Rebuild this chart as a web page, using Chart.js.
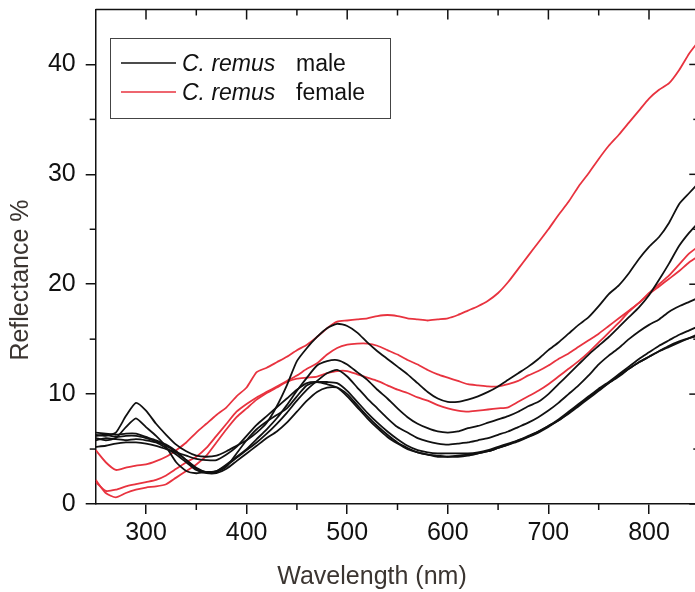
<!DOCTYPE html>
<html>
<head>
<meta charset="utf-8">
<script src="https://cdn.jsdelivr.net/npm/chart.js@4.4.1/dist/chart.umd.min.js"></script>
<style>
  html, body { margin: 0; padding: 0; background: #fff; overflow: hidden; }
  #wrap { width: 705px; height: 592px; }
</style>
</head>
<body>
<div id="wrap"><canvas id="chart" width="705" height="592"></canvas></div>
<script>
// wavelength (nm)
const wavelengths = [
  250, 260, 270, 280, 290, 300, 310, 320, 330, 340,
  350, 360, 370, 380, 390, 400, 410, 420, 430, 440,
  450, 460, 470, 480, 490, 500, 510, 520, 530, 540,
  550, 560, 570, 580, 590, 600, 610, 620, 630, 640,
  650, 660, 670, 680, 690, 700, 710, 720, 730, 740,
  750, 760, 770, 780, 790, 800, 810, 820, 830, 840, 850
];

// C. remus males (reflectance %)
const male1 = [
  6.3, 6.2, 6.5, 8.0, 9.2, 8.5, 7.3, 6.3, 5.4, 4.8,
  4.4, 4.3, 4.4, 4.8, 5.3, 5.8, 6.5, 7.4, 8.9, 10.8,
  13.0, 14.2, 15.2, 16.0, 16.4, 16.2, 15.6, 14.7, 13.9, 13.2,
  12.5, 11.8, 11.0, 10.2, 9.6, 9.3, 9.3, 9.5, 9.8, 10.2,
  10.7, 11.3, 11.9, 12.5, 13.2, 14.0, 14.7, 15.5, 16.3, 17.0,
  18.0, 19.1, 19.9, 21.0, 22.3, 23.4, 24.3, 25.6, 27.3, 28.3, 29.3
];
const male2 = [
  6.0, 5.8, 6.0, 7.0, 7.8, 7.0, 6.2, 5.2, 3.8, 3.0,
  2.8, 2.9, 3.0, 3.6, 4.3, 5.0, 5.9, 6.8, 7.8, 9.0,
  10.3, 11.5, 12.6, 13.0, 13.1, 12.7, 12.0, 11.3, 10.4, 9.6,
  8.7, 7.9, 7.3, 6.9, 6.6, 6.5, 6.6, 6.9, 7.1, 7.4,
  7.7, 8.0, 8.4, 8.9, 9.3, 10.0, 10.9, 11.8, 12.7, 13.6,
  14.4, 15.2, 16.1, 17.0, 17.9, 19.0, 20.4, 21.9, 23.5, 24.7, 25.7
];
const male3 = [
  6.5, 6.4, 6.3, 6.4, 6.4, 6.1, 5.8, 5.4, 4.8, 4.0,
  3.2, 2.9, 3.0, 3.5, 4.2, 4.9, 5.6, 6.4, 7.3, 8.3,
  9.4, 10.4, 11.2, 11.9, 12.2, 11.6, 10.6, 9.6, 8.7, 7.8,
  7.0, 6.5, 6.0, 5.7, 5.5, 5.4, 5.5, 5.6, 5.8, 6.0,
  6.3, 6.6, 7.0, 7.4, 7.9, 8.5, 9.2, 10.0, 10.8, 11.7,
  12.7, 13.5, 14.2, 15.0, 15.7, 16.3, 16.8, 17.5, 18.0, 18.4, 18.8
];
const male4 = [
  6.2, 6.3, 6.1, 6.2, 6.2, 6.0, 5.7, 5.3, 4.7, 4.0,
  3.3, 2.9, 2.9, 3.4, 4.6, 5.8, 6.8, 7.5, 8.1, 8.7,
  9.8, 10.8, 11.1, 11.1, 11.0, 10.3, 9.3, 8.3, 7.4, 6.6,
  5.9, 5.3, 4.9, 4.7, 4.6, 4.6, 4.6, 4.6, 4.7, 4.9,
  5.2, 5.5, 5.8, 6.2, 6.6, 7.1, 7.7, 8.4, 9.1, 9.8,
  10.5, 11.1, 11.8, 12.5, 13.2, 13.8, 14.4, 14.9, 15.4, 15.8, 16.2
];
const male5 = [
  5.2, 5.3, 5.5, 5.6, 5.6, 5.5, 5.3, 5.0, 4.7, 4.4,
  4.1, 4.0, 4.0, 4.5, 5.2, 6.2, 7.2, 8.0, 8.8, 9.6,
  10.4, 11.0, 11.1, 10.9, 10.6, 9.8, 8.8, 7.8, 6.9, 6.1,
  5.5, 5.0, 4.7, 4.5, 4.4, 4.3, 4.3, 4.4, 4.6, 4.8,
  5.1, 5.4, 5.8, 6.1, 6.5, 7.0, 7.6, 8.2, 8.9, 9.6,
  10.3, 11.0, 11.6, 12.3, 12.9, 13.4, 13.9, 14.3, 14.7, 15.1, 15.5
];
const male6 = [
  5.8, 6.0, 5.9, 5.8, 5.9, 5.8, 5.6, 5.1, 4.5, 3.8,
  3.1, 2.8, 2.8, 3.2, 3.9, 4.6, 5.3, 6.0, 6.6, 7.4,
  8.4, 9.4, 10.2, 10.6, 10.6, 10.0, 9.0, 8.0, 7.1, 6.3,
  5.6, 5.1, 4.7, 4.5, 4.3, 4.3, 4.4, 4.5, 4.6, 4.8,
  5.1, 5.4, 5.7, 6.1, 6.6, 7.1, 7.6, 8.3, 9.0, 9.7,
  10.4, 11.0, 11.7, 12.3, 12.9, 13.4, 13.9, 14.4, 14.8, 15.1, 15.3
];

// C. remus females (reflectance %)
const female1 = [
  4.9, 3.8, 3.1, 3.3, 3.5, 3.6, 3.9, 4.3, 4.9, 5.6,
  6.5, 7.3, 8.1, 8.8, 9.8, 10.6, 12.0, 12.4, 12.9, 13.4,
  14.0, 14.5, 15.2, 16.0, 16.6, 16.7, 16.8, 16.9, 17.1, 17.2,
  17.1, 16.9, 16.8, 16.7, 16.8, 16.9, 17.2, 17.6, 18.0, 18.5,
  19.2, 20.2, 21.4, 22.6, 23.8, 25.0, 26.3, 27.5, 28.9, 30.1,
  31.4, 32.6, 33.6, 34.7, 35.8, 36.9, 37.7, 38.3, 39.5, 41.0, 42.2
];
const female2 = [
  2.0, 1.2, 1.3, 1.6, 1.8, 2.0, 2.2, 2.6, 3.2, 3.8,
  4.3, 5.1, 6.2, 7.3, 8.4, 9.1, 9.7, 10.2, 10.7, 11.2,
  11.7, 12.3, 12.8, 13.6, 14.2, 14.5, 14.6, 14.6, 14.4, 14.0,
  13.6, 13.1, 12.7, 12.2, 11.8, 11.5, 11.2, 10.9, 10.8, 10.7,
  10.7, 10.9, 11.2, 11.7, 12.1, 12.6, 13.2, 13.7, 14.3, 14.9,
  15.5, 16.2, 16.9, 17.6, 18.3, 19.2, 20.0, 20.8, 21.8, 22.8, 23.5
];
const female3 = [
  2.2, 1.0, 0.6, 1.0, 1.3, 1.5, 1.6, 1.8, 2.4, 3.0,
  3.6, 4.4, 5.6, 6.8, 7.9, 8.7, 9.5, 10.1, 10.6, 11.1,
  11.4, 11.5, 11.6, 11.9, 12.1, 12.1, 11.8, 11.5, 11.2, 10.8,
  10.4, 10.1, 9.7, 9.4, 9.0, 8.7, 8.5, 8.4, 8.5, 8.6,
  8.7, 8.8, 9.3, 9.8, 10.3, 10.9, 11.6, 12.3, 13.0, 13.8,
  14.7, 15.6, 16.5, 17.5, 18.3, 19.1, 19.8, 20.5, 21.2, 22.0, 22.6
];

const maleSeries = [male1, male2, male3, male4, male5, male6];
const femaleSeries = [female1, female2, female3];

// axis ticks
const xTicks = [300, 400, 500, 600, 700, 800];
const xMinorTicks = [350, 450, 550, 650, 750];
const yTicks = [0, 10, 20, 30, 40];
const yMinorTicks = [5, 15, 25, 35];

const legendItems = [
  { species: "C. remus", sex: "male", color: "#111111" },
  { species: "C. remus", sex: "female", color: "#e8333f" },
];

const FONT = '"Liberation Sans", Arial, sans-serif';

const toPoints = (values) => values.map((v, i) => ({ x: wavelengths[i], y: v }));

const datasets = [];
maleSeries.forEach((s) => {
  datasets.push({
    label: "male",
    data: toPoints(s),
    borderColor: legendItems[0].color,
    borderWidth: 1.8,
    pointRadius: 0,
    tension: 0.2,
  });
});
femaleSeries.forEach((s) => {
  datasets.push({
    label: "female",
    data: toPoints(s),
    borderColor: legendItems[1].color,
    borderWidth: 1.8,
    pointRadius: 0,
    tension: 0.2,
  });
});

// draws the top/right frame, minor ticks, axis titles and the legend box
const framePlugin = {
  id: "framePlugin",
  afterDraw(chart) {
    const { ctx, chartArea: a } = chart;
    const x = chart.scales.x;
    const y = chart.scales.y;
    const line = (x1, y1, x2, y2) => {
      ctx.beginPath();
      ctx.moveTo(x1, y1);
      ctx.lineTo(x2, y2);
      ctx.stroke();
    };
    ctx.save();
    ctx.strokeStyle = "#111";
    ctx.lineWidth = 1.5;
    line(a.left, a.top, a.right, a.top);
    line(a.right, a.top, a.right, a.bottom);

    xTicks.forEach((v) => {
      const px = x.getPixelForValue(v);
      line(px, a.top, px, a.top + 10);
    });
    xMinorTicks.forEach((v) => {
      const px = x.getPixelForValue(v);
      line(px, a.top, px, a.top + 6);
      line(px, a.bottom, px, a.bottom + 6);
    });
    yTicks.forEach((v) => {
      const py = y.getPixelForValue(v);
      line(a.right, py, a.right - 10, py);
    });
    yMinorTicks.forEach((v) => {
      const py = y.getPixelForValue(v);
      line(a.right, py, a.right - 6, py);
      line(a.left, py, a.left - 6, py);
    });

    // axis titles
    ctx.fillStyle = "#3b3531";
    ctx.font = "25px " + FONT;
    ctx.textAlign = "center";
    ctx.textBaseline = "middle";
    ctx.fillText("Wavelength (nm)", 372, 577);
    ctx.save();
    ctx.translate(21, 280);
    ctx.rotate(-Math.PI / 2);
    ctx.fillText("Reflectance %", 0, 0);
    ctx.restore();

    // legend
    ctx.strokeStyle = "#444";
    ctx.lineWidth = 1;
    ctx.strokeRect(110.5, 38.5, 280, 80);
    ctx.textAlign = "left";
    ctx.textBaseline = "alphabetic";
    ctx.fillStyle = "#111";
    legendItems.forEach((item, i) => {
      const ly = 63 + i * 29;
      ctx.strokeStyle = item.color;
      ctx.lineWidth = 1.6;
      line(121, ly, 176, ly);
      ctx.font = "italic 23px " + FONT;
      ctx.fillText(item.species, 182, ly + 8);
      ctx.font = "23px " + FONT;
      ctx.fillText(item.sex, 296, ly + 8);
    });
    ctx.restore();
  },
};

new Chart(document.getElementById("chart").getContext("2d"), {
  type: "line",
  data: { datasets },
  options: {
    responsive: false,
    animation: false,
    layout: { padding: { top: 9.5, right: 5.7, left: 0, bottom: 0 } },
    plugins: { legend: { display: false }, tooltip: { enabled: false } },
    scales: {
      x: {
        type: "linear",
        min: 250,
        max: 850,
        afterBuildTicks: (scale) => {
          scale.ticks = xTicks.map((v) => ({ value: v }));
        },
        afterFit: (scale) => {
          scale.height = 88;
          scale.paddingLeft = 0;
          scale.paddingRight = 0;
        },
        grid: { drawOnChartArea: false, tickLength: 10, color: "#111", lineWidth: 1.5 },
        border: { display: true, color: "#111", width: 1.5 },
        ticks: { color: "#111", padding: 4, font: { family: FONT, size: 25 } },
      },
      y: {
        type: "linear",
        min: 0,
        max: 45,
        afterBuildTicks: (scale) => {
          scale.ticks = yTicks.map((v) => ({ value: v }));
        },
        afterFit: (scale) => {
          scale.width = 95.7;
          scale.paddingTop = 0;
          scale.paddingBottom = 0;
        },
        grid: { drawOnChartArea: false, tickLength: 10, color: "#111", lineWidth: 1.5 },
        border: { display: true, color: "#111", width: 1.5 },
        ticks: { color: "#111", padding: 10, font: { family: FONT, size: 25 } },
      },
    },
  },
  plugins: [framePlugin],
});
</script>
</body>
</html>
